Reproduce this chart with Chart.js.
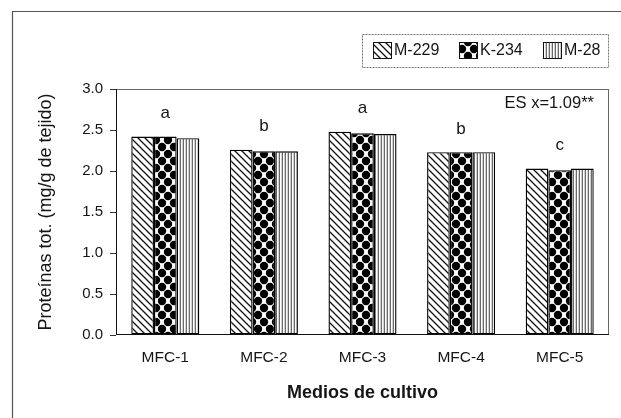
<!DOCTYPE html>
<html>
<head>
<meta charset="utf-8">
<script src="https://cdn.jsdelivr.net/npm/chart.js@4/dist/chart.umd.min.js"></script>
<style>
  html, body { margin: 0; padding: 0; background: #fff; }
  #wrap { width: 621px; height: 418px; }
</style>
</head>
<body>
<div id="wrap"><canvas id="chart" width="621" height="418"></canvas></div>
<script>
const categories = ["MFC-1", "MFC-2", "MFC-3", "MFC-4", "MFC-5"]
const seriesNames = ["M-229", "K-234", "M-28"]
const m229 = [2.42, 2.26, 2.48, 2.23, 2.03]
const k234 = [2.42, 2.24, 2.46, 2.23, 2.01]
const m28 = [2.40, 2.24, 2.45, 2.23, 2.03]
const letters = ["a", "b", "a", "b", "c"]
const yTicks = [0, 0.5, 1.0, 1.5, 2.0, 2.5, 3.0]
const esText = "ES x=1.09**"

const FONT = "'Liberation Sans', Arial, sans-serif"
const INK = "#151515"

function makeTile(w, h, draw) {
    let c = document.createElement("canvas")
    c.width = w
    c.height = h
    let g = c.getContext("2d")
    g.fillStyle = "#fff"
    g.fillRect(0, 0, w, h)
    draw(g)
    return document.getElementById("chart").getContext("2d").createPattern(c, "repeat")
}

// diagonal hatch  \\\
const hatch = makeTile(7, 7, g => {
    g.strokeStyle = "#111"
    g.lineWidth = 1.3
    g.beginPath()
    g.moveTo(-1, -1); g.lineTo(8, 8)
    g.moveTo(-8, -1); g.lineTo(1, 8)
    g.moveTo(6, -1); g.lineTo(15, 8)
    g.stroke()
})
// big black dots
const dots = makeTile(12, 14, g => {
    g.fillStyle = "#000"
    let pts = [[0, 0], [12, 0], [0, 14], [12, 14], [6, 7]]
    pts.forEach(p => {
        g.beginPath()
        g.arc(p[0], p[1], 4.2, 0, Math.PI * 2)
        g.fill()
    })
})
// fine vertical lines
const vlines = makeTile(3, 4, g => {
    g.fillStyle = "#6a6a6a"
    g.fillRect(0, 0, 1, 4)
    g.fillStyle = "#d0d0d0"
    g.fillRect(2, 0, 1, 4)
})

const fills = [hatch, dots, vlines]

const extras = {
    id: "extras",
    beforeDraw(chart) {
        let ctx = chart.ctx
        ctx.save()
        // outer frame
        ctx.strokeStyle = "#555"
        ctx.lineWidth = 1.2
        ctx.beginPath()
        ctx.moveTo(12.5, 418)
        ctx.lineTo(12.5, 11.5)
        ctx.lineTo(621, 11.5)
        ctx.stroke()
        ctx.restore()
    },
    afterDatasetsDraw(chart) {
        let ctx = chart.ctx
        let a = chart.chartArea
        let x = chart.scales.x, y = chart.scales.y
        ctx.save()
        // plot frame
        ctx.strokeStyle = "#666"
        ctx.lineWidth = 1
        ctx.strokeRect(a.left + 0.5, a.top + 0.5, a.right - a.left - 1, a.bottom - a.top - 1)
        ctx.strokeStyle = "#111"
        ctx.beginPath()
        ctx.moveTo(a.left + 0.5, a.top)
        ctx.lineTo(a.left + 0.5, a.bottom - 0.5)
        ctx.lineTo(a.right, a.bottom - 0.5)
        ctx.stroke()

        // significance letters
        ctx.fillStyle = INK
        ctx.font = "17px " + FONT
        ctx.textAlign = "center"
        ctx.textBaseline = "middle"
        categories.forEach((c, i) => {
            let top = Math.max(m229[i], k234[i], m28[i])
            ctx.fillText(letters[i], x.getPixelForValue(i), y.getPixelForValue(top) - 23)
        })
        ctx.textAlign = "right"
        ctx.font = "16.5px " + FONT
        ctx.fillText(esText, a.right - 15, a.top + 14)

        // legend
        let lx0 = a.right - 247, ly0 = 34, lw = 247, lh = 34
        ctx.strokeStyle = "#777"
        ctx.setLineDash([2, 1])
        ctx.strokeRect(lx0 + 0.5, ly0 + 0.5, lw - 1, lh - 1)
        ctx.setLineDash([])
        ctx.font = "16px " + FONT
        ctx.textAlign = "left"
        let offs = [11, 97, 181]
        chart.data.datasets.forEach((ds, i) => {
            let sx = lx0 + offs[i], sy = ly0 + 8
            ctx.fillStyle = ds.backgroundColor
            ctx.fillRect(sx, sy, 19, 17)
            ctx.strokeStyle = "#111"
            ctx.lineWidth = 1
            ctx.strokeRect(sx + 0.5, sy + 0.5, 18, 16)
            ctx.fillStyle = INK
            ctx.fillText(ds.label, sx + 21, sy + 9)
        })
        ctx.restore()
    }
}

new Chart(document.getElementById("chart"), {
    type: "bar",
    data: {
        labels: categories,
        datasets: [m229, k234, m28].map((vals, i) => ({
            label: seriesNames[i],
            data: vals,
            backgroundColor: fills[i],
            borderColor: "#000",
            borderWidth: 1.4,
            borderSkipped: false,
            categoryPercentage: 0.69,
            barPercentage: 1.0
        }))
    },
    options: {
        responsive: false,
        animation: false,
        layout: { padding: { left: 0, top: 89, right: 12, bottom: 0 } },
        plugins: {
            legend: { display: false },
            tooltip: { enabled: false }
        },
        scales: {
            x: {
                grid: { display: false, drawTicks: false },
                border: { display: false },
                ticks: { color: INK, font: { family: FONT, size: 15.5 }, padding: 13 },
                title: {
                    display: true, text: "Medios de cultivo", color: INK,
                    font: { family: FONT, size: 18, weight: "bold", lineHeight: 1.2 },
                    padding: { top: 0, bottom: 14 }
                },
                afterFit(s) { s.height = 83 }
            },
            y: {
                min: 0, max: 3,
                afterBuildTicks(s) { s.ticks = yTicks.map(v => ({ value: v })) },
                grid: { drawOnChartArea: false, drawTicks: true, tickLength: 6, color: "#333" },
                border: { display: false },
                ticks: {
                    color: INK, font: { family: FONT, size: 15 }, padding: 7,
                    callback: v => v.toFixed(1)
                },
                title: {
                    display: true, text: "Proteínas tot. (mg/g de tejido)", color: INK,
                    font: { family: FONT, size: 18, lineHeight: 1.2 },
                    padding: { top: 35, bottom: 0 }
                },
                afterFit(s) { s.width = 116 }
            }
        }
    },
    plugins: [extras]
})
</script>
</body>
</html>
